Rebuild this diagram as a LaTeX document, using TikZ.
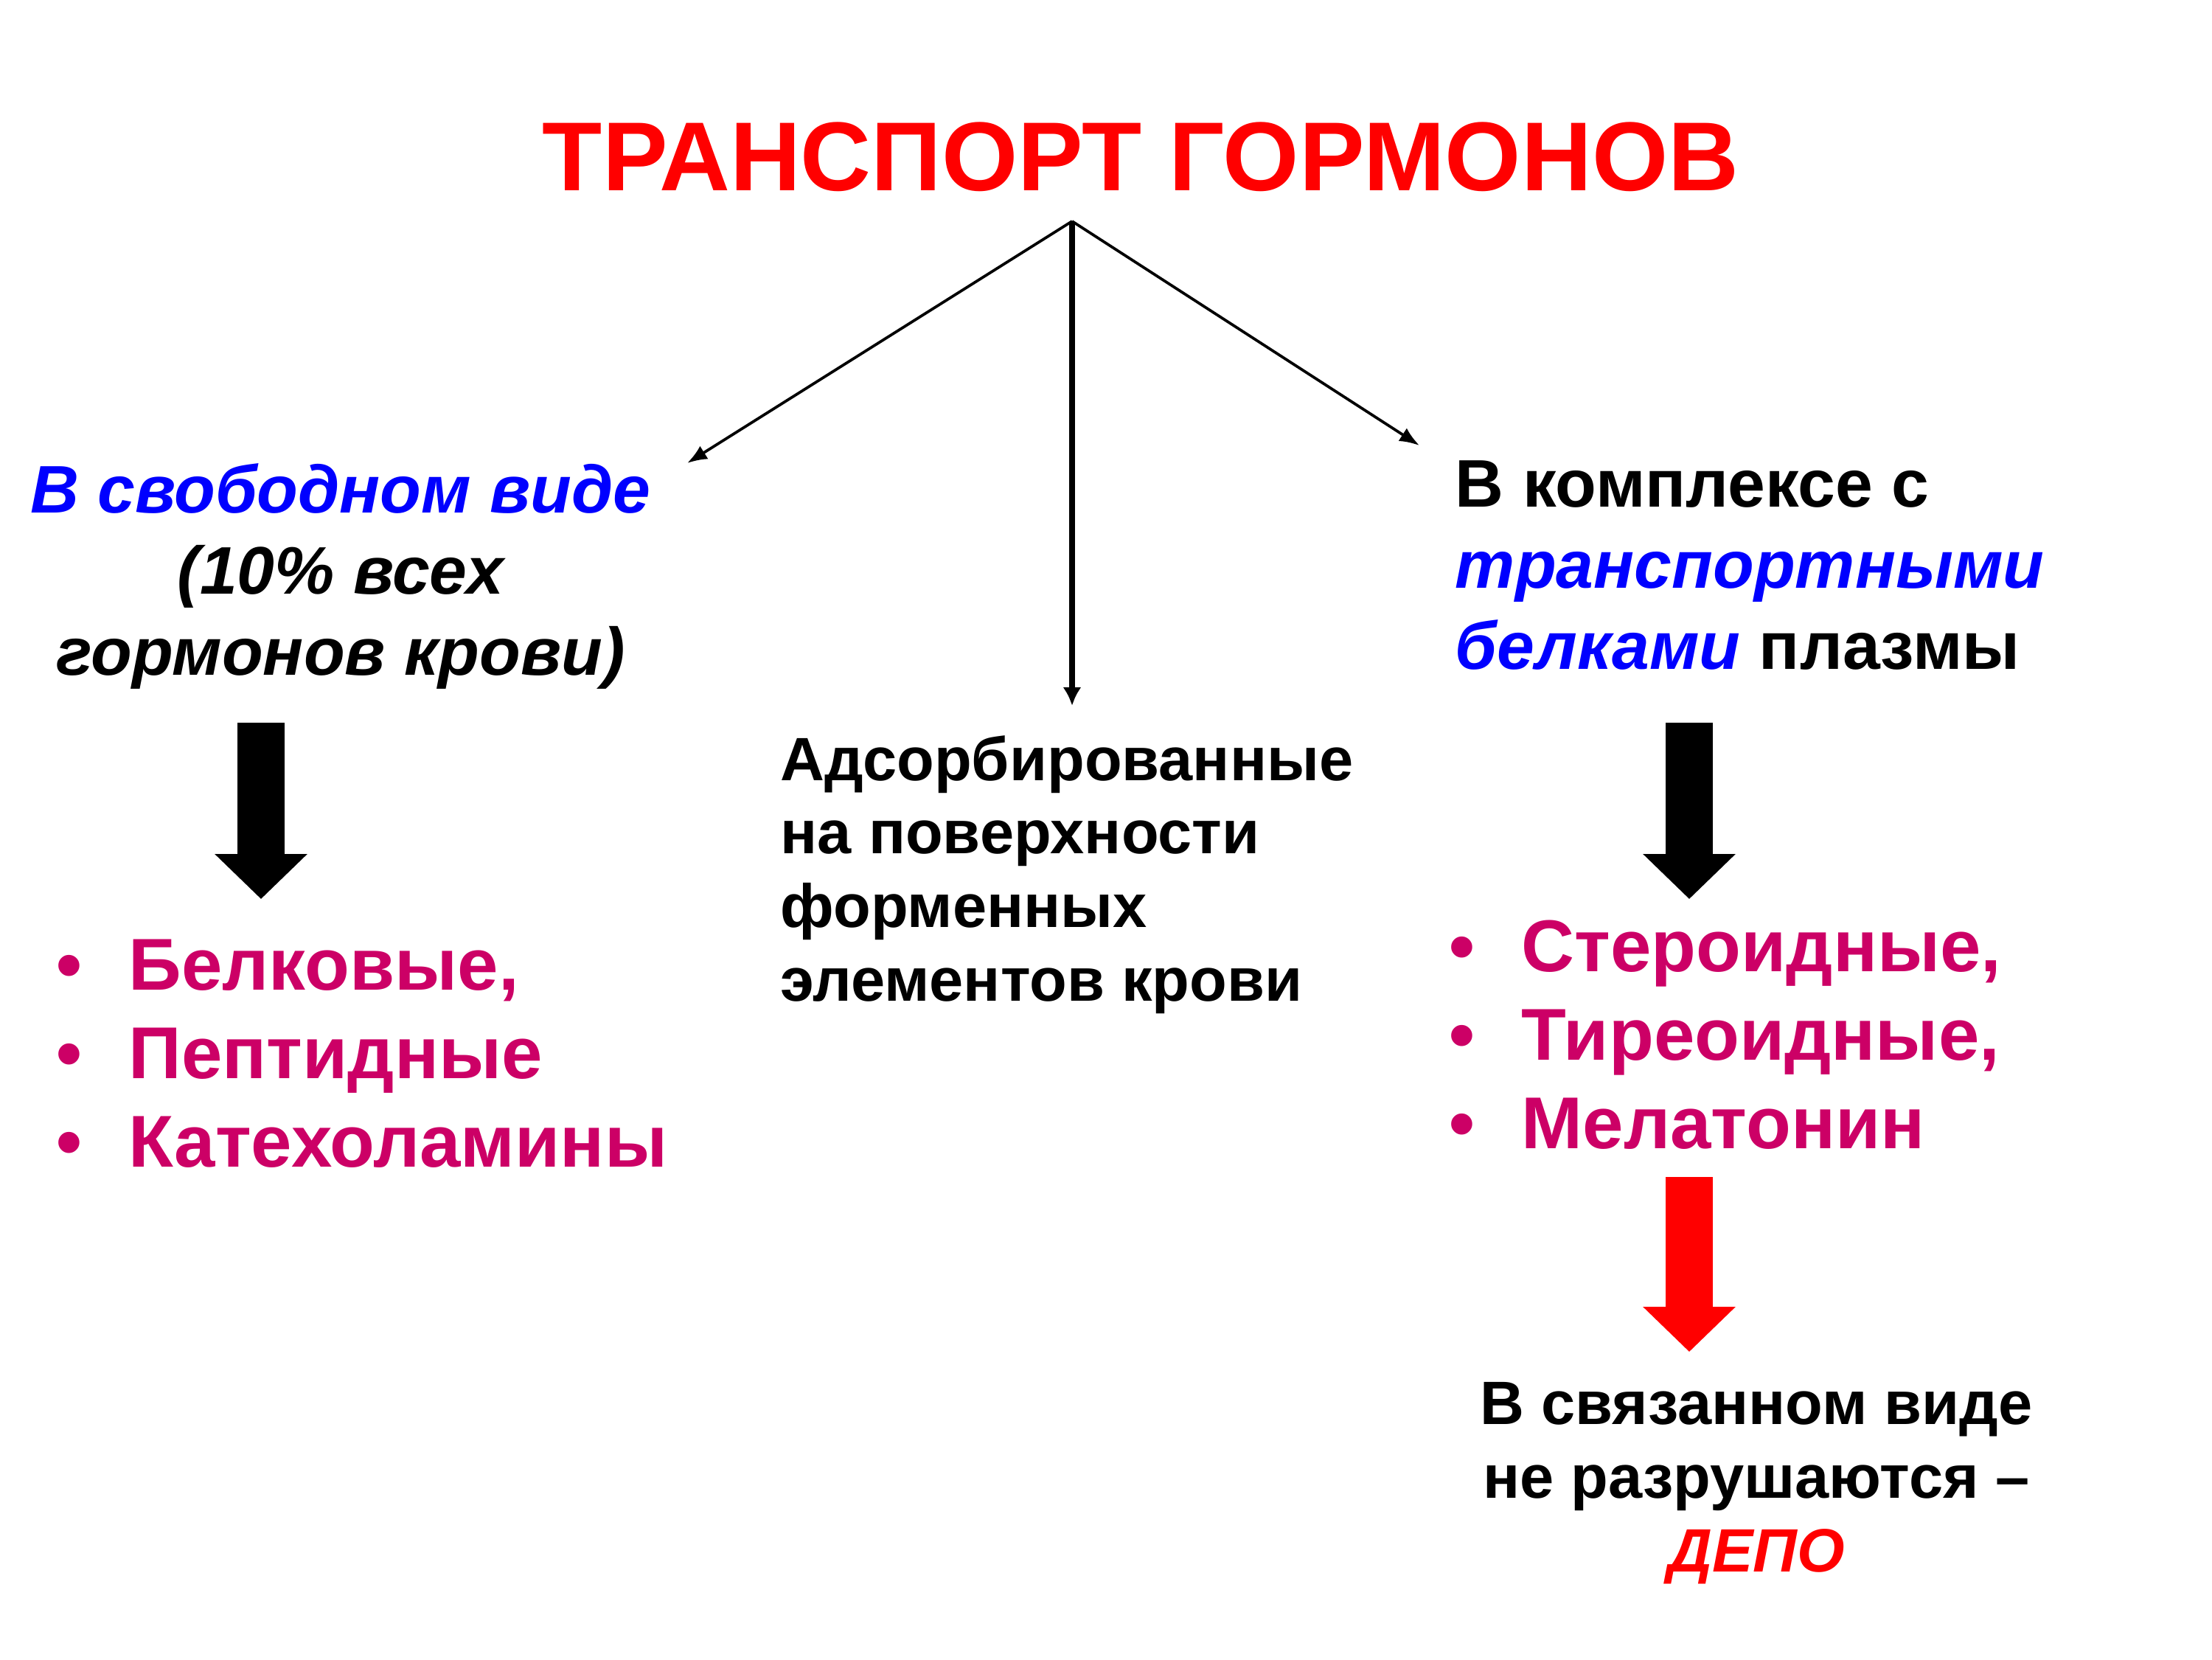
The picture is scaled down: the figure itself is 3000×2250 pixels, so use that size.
\documentclass[tikz,border=0pt]{standalone}
\usepackage{fontspec}
\setmainfont{Liberation Sans}
\usetikzlibrary{arrows.meta}
\definecolor{hblue}{RGB}{0,0,255}
\definecolor{hpink}{RGB}{204,0,102}
\definecolor{hred}{RGB}{255,0,0}
\newcommand{\bul}{\makebox[23.6pt][l]{\textbullet}}
\begin{document}
\begin{tikzpicture}[x=0.0084667cm,y=-0.0084667cm,>={Latex[length=6.5pt,width=5pt]}]
\tikzset{
  heading/.style={font=\fontsize{32}{38}\selectfont\bfseries,text=hred,inner sep=0pt},
  branch/.style={font=\fontsize{22}{26.4}\selectfont\bfseries,inner sep=0pt},
  note/.style={font=\fontsize{20}{24}\selectfont\bfseries,inner sep=0pt},
  kinds/.style={font=\fontsize{24}{28.8}\selectfont\bfseries,text=hpink,align=left,inner sep=0pt,anchor=base west},
  fat/.style={line width=15.4pt,-{Triangle[width=29.4pt,length=14.7pt]}}
}
\useasboundingbox (0,0) rectangle (3000,2250);
% multi-line nodes sit on the baseline of their last line
\node[heading,anchor=base] (title) at (1547,258) {ТРАНСПОРТ ГОРМОНОВ};
\node[branch,font=\fontsize{22}{26.4}\selectfont\bfseries\itshape,align=center,anchor=base] (free) at (462,915)
  {\textcolor{hblue}{В свободном виде}\\(10\% всех\\гормонов крови)};
\node[branch,align=left,anchor=base west] (bound) at (1973,907)
  {В комплексе с\\\textcolor{hblue}{\itshape транспортными}\\\textcolor{hblue}{\itshape белками} плазмы};
\node[note,align=left,anchor=base west] (adsorb) at (1058,1357)
  {Адсорбированные\\на поверхности\\форменных\\элементов крови};
\node[kinds] (freelist) at (76,1582) {\bul Белковые,\\\bul Пептидные\\\bul Катехоламины};
\node[kinds] (boundlist) at (1965,1557) {\bul Стероидные,\\\bul Тиреоидные,\\\bul Мелатонин};
\node[note,align=center,anchor=base] (depot) at (2382,2131)
  {В связанном виде\\не разрушаются –\\\textcolor{hred}{\itshape ДЕПО}};
% thin arrows from under the title
\coordinate (split) at (1454,300);
\coordinate (toFree) at (932,628);
\coordinate (toBound) at (1925,604);
\coordinate (toAdsorb) at (1454,957);
\draw[->,line width=0.9pt] (split) -- (toFree);
\draw[->,line width=0.9pt] (split) -- (toBound);
\draw[-{Latex[length=6pt,width=6pt]},line width=1.8pt] (split) -- (toAdsorb);
% block arrows
\coordinate (f1) at (354,980);
\coordinate (f2) at (354,1219);
\coordinate (b1) at (2291,980);
\coordinate (b2) at (2291,1219);
\coordinate (d1) at (2291,1596);
\coordinate (d2) at (2291,1833);
\draw[fat] (f1) -- (f2);
\draw[fat] (b1) -- (b2);
\draw[fat,draw=hred,fill=hred] (d1) -- (d2);
\end{tikzpicture}
\end{document}
